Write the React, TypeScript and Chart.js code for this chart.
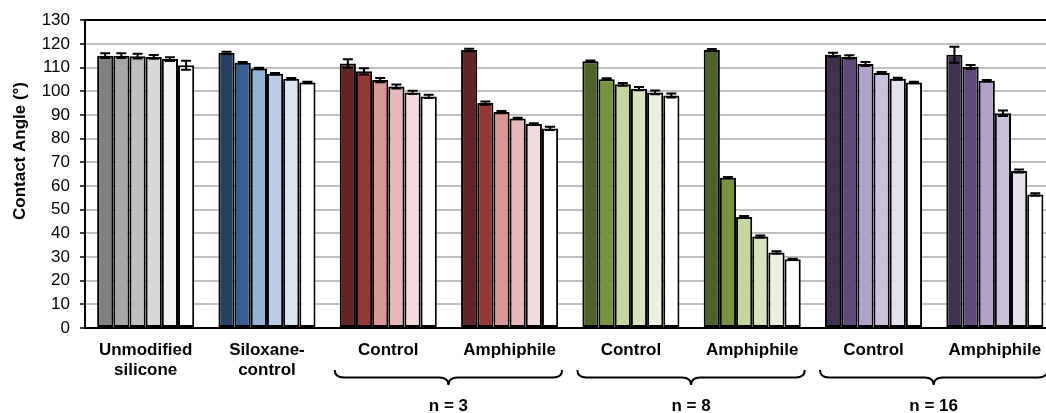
import React, { useEffect, useRef } from "react";
import { Chart, registerables } from "chart.js";

Chart.register(...registerables);

// ---- data ----
const categories: (string | string[])[] = [
  ["Unmodified", "silicone"],
  ["Siloxane-", "control"],
  "Control",
  "Amphiphile",
  "Control",
  "Amphiphile",
  "Control",
  "Amphiphile",
];

// six consecutive measurements per group
const unmodifiedSilicone = [115.0, 115.0, 114.8, 114.5, 113.6, 111.0];
const siloxaneControl = [116.2, 112.0, 109.6, 107.4, 105.3, 103.7];
const controlN3 = [111.7, 108.4, 104.7, 102.0, 99.5, 97.8];
const amphiphileN3 = [117.4, 95.0, 91.2, 88.5, 86.2, 84.3];
const controlN8 = [112.7, 105.1, 102.9, 101.1, 99.5, 98.2];
const amphiphileN8 = [117.4, 63.5, 46.9, 38.6, 31.9, 29.0];
const controlN16 = [115.4, 114.5, 111.5, 107.7, 105.3, 103.7];
const amphiphileN16 = [115.4, 110.3, 104.4, 90.7, 66.3, 56.4];

const unmodifiedSiliconeErr = [1.0, 1.0, 1.0, 0.8, 0.8, 1.9];
const siloxaneControlErr = [0.5, 0.3, 0.3, 0.3, 0.3, 0.3];
const controlN3Err = [1.8, 1.3, 0.9, 0.8, 0.7, 0.7];
const amphiphileN3Err = [0.5, 0.7, 0.5, 0.3, 0.3, 0.7];
const controlN8Err = [0.3, 0.4, 0.6, 0.7, 0.8, 0.8];
const amphiphileN8Err = [0.4, 0.3, 0.4, 0.5, 0.5, 0.3];
const controlN16Err = [0.8, 0.7, 0.8, 0.4, 0.4, 0.3];
const amphiphileN16Err = [3.4, 0.8, 0.3, 1.2, 0.6, 0.5];

const groupValues = [
  unmodifiedSilicone,
  siloxaneControl,
  controlN3,
  amphiphileN3,
  controlN8,
  amphiphileN8,
  controlN16,
  amphiphileN16,
];
const groupErrors = [
  unmodifiedSiliconeErr,
  siloxaneControlErr,
  controlN3Err,
  amphiphileN3Err,
  controlN8Err,
  amphiphileN8Err,
  controlN16Err,
  amphiphileN16Err,
];

const greyShades = ["#808080", "#A6A6A6", "#BFBFBF", "#D9D9D9", "#F2F2F2", "#FFFFFF"];
const blueShades = ["#254061", "#376092", "#95B3D7", "#B9CDE5", "#DCE6F2", "#FFFFFF"];
const redShades = ["#632523", "#953735", "#D99694", "#E6B9B8", "#F2DCDB", "#FFFFFF"];
const greenShades = ["#4F6228", "#77933C", "#C3D69B", "#D7E4BD", "#EBF1DE", "#FFFFFF"];
const purpleShades = ["#403152", "#604A7B", "#B3A2C7", "#CCC1DA", "#E6E0EC", "#FFFFFF"];
const groupColors = [
  greyShades,
  blueShades,
  redShades,
  redShades,
  greenShades,
  greenShades,
  purpleShades,
  purpleShades,
];

const braceLabels = ["n = 3", "n = 8", "n = 16"];
const braceFrom = [2, 4, 6];
const braceTo = [3, 5, 7];

const yMin = 0;
const yMax = 130;
const yLabelStep = 10;
const yMinorStep = 5;
const yTitle = "Contact Angle (°)";

const FONT = "'Liberation Sans', Arial, sans-serif";
const CAT_PCT = 0.8;

const errorBarPlugin = {
  id: "errorBars",
  afterDatasetsDraw(chart: any) {
    const ctx = chart.ctx;
    const y = chart.scales.y;
    ctx.save();
    ctx.strokeStyle = "#000";
    ctx.lineWidth = 2;
    chart.data.datasets.forEach((ds: any, di: number) => {
      const meta = chart.getDatasetMeta(di);
      meta.data.forEach((el: any, i: number) => {
        const v = ds.data[i];
        const e = ds.errors[i];
        const yTop = y.getPixelForValue(v + e);
        const yBot = y.getPixelForValue(v - e);
        const cap = 5;
        ctx.beginPath();
        ctx.moveTo(el.x, yTop);
        ctx.lineTo(el.x, yBot);
        ctx.moveTo(el.x - cap, yTop);
        ctx.lineTo(el.x + cap, yTop);
        ctx.moveTo(el.x - cap, yBot);
        ctx.lineTo(el.x + cap, yBot);
        ctx.stroke();
      });
    });
    ctx.restore();
  },
};

const annotationPlugin = {
  id: "annotations",
  afterDraw(chart: any) {
    const ctx = chart.ctx;
    const x = chart.scales.x;
    const area = chart.chartArea;
    const catW = (area.right - area.left) / categories.length;
    const half = (catW * CAT_PCT) / 2;
    ctx.save();
    // y-axis title
    ctx.fillStyle = "#000";
    ctx.font = `bold 17px ${FONT}`;
    ctx.textAlign = "center";
    ctx.textBaseline = "middle";
    ctx.translate(20, 151);
    ctx.rotate(-Math.PI / 2);
    ctx.fillText(yTitle, 0, 0);
    ctx.restore();

    ctx.save();
    ctx.strokeStyle = "#000";
    ctx.lineWidth = 2;
    ctx.fillStyle = "#000";
    ctx.font = `bold 17px ${FONT}`;
    ctx.textAlign = "center";
    ctx.textBaseline = "middle";
    const yTopB = 370;
    const yMid = 377.5;
    const yTip = 385;
    braceLabels.forEach((label, k) => {
      const x1 = x.getPixelForValue(braceFrom[k]) - half - 5;
      const x2 = x.getPixelForValue(braceTo[k]) + half + 4;
      const m = (x1 + x2) / 2;
      const r = 9;
      ctx.beginPath();
      ctx.moveTo(x1, yTopB);
      ctx.quadraticCurveTo(x1, yMid, x1 + r, yMid);
      ctx.lineTo(m - r, yMid);
      ctx.quadraticCurveTo(m, yMid, m, yTip);
      ctx.quadraticCurveTo(m, yMid, m + r, yMid);
      ctx.lineTo(x2 - r, yMid);
      ctx.quadraticCurveTo(x2, yMid, x2, yTopB);
      ctx.stroke();
      ctx.fillText(label, m, 406);
    });
    ctx.restore();
  },
};

export default function App() {
  const ref = useRef<HTMLCanvasElement | null>(null);

  useEffect(() => {
    if (!ref.current) return;
    const datasets = [0, 1, 2, 3, 4, 5].map((j) => ({
      label: `t${j + 1}`,
      data: groupValues.map((g) => g[j]),
      errors: groupErrors.map((g) => g[j]),
      backgroundColor: groupColors.map((c) => c[j]),
      borderColor: "#000",
      borderWidth: 2,
      borderSkipped: false,
      categoryPercentage: CAT_PCT,
      barPercentage: 1,
    }));
    const chart = new Chart(ref.current, {
      type: "bar",
      data: { labels: categories, datasets: datasets as any },
      plugins: [errorBarPlugin, annotationPlugin],
      options: {
        animation: false,
        responsive: false,
        devicePixelRatio: 1,
        layout: { padding: { top: 20, right: 0.5, left: 0, bottom: 0 } },
        plugins: {
          legend: { display: false },
          tooltip: { enabled: false },
        },
        scales: {
          x: {
            grid: { display: true, drawOnChartArea: false, drawTicks: false },
            border: { display: true, color: "#000", width: 2 },
            ticks: {
              color: "#000",
              font: { family: FONT, size: 17, weight: "bold", lineHeight: 1.2 },
              padding: 12,
              maxRotation: 0,
              autoSkip: false,
            },
            afterFit(scale: any) {
              scale.height = 85;
            },
          },
          y: {
            min: yMin,
            max: yMax,
            ticks: {
              stepSize: yMinorStep,
              color: "#000",
              font: { family: FONT, size: 17 },
              padding: 10,
              callback: (v: any) => (Number(v) % yLabelStep === 0 ? String(v) : ""),
            },
            grid: {
              color: (c: any) =>
                c.tick && c.tick.value === yMax
                  ? "#000"
                  : c.tick && c.tick.value % yLabelStep === 0
                  ? "#BFBFBF"
                  : "rgba(0,0,0,0)",
              lineWidth: 2,
              tickColor: "#000",
              tickLength: 5,
              tickWidth: 1.5,
            },
            border: { display: true, color: "#000", width: 2 },
            afterFit(scale: any) {
              scale.width = 85;
            },
          },
        },
      } as any,
    });
    return () => chart.destroy();
  }, []);

  return (
    <div
      style={{
        position: "fixed",
        left: 0,
        top: 0,
        width: 1046,
        height: 413,
        overflow: "hidden",
        background: "#fff",
      }}
    >
      <canvas ref={ref} width={1056} height={413} style={{ display: "block" }} />
    </div>
  );
}
